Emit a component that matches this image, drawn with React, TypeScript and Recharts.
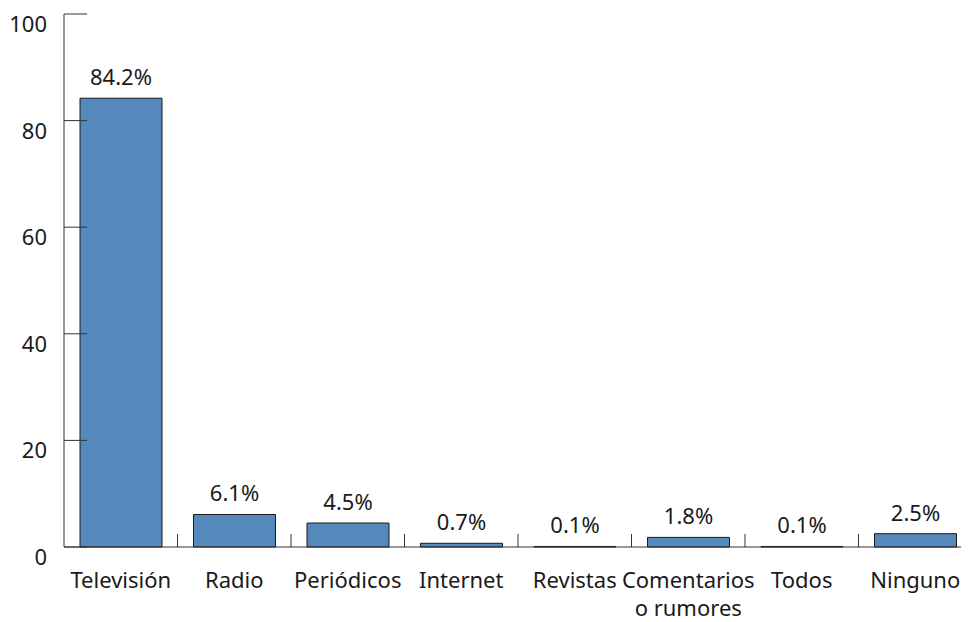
import { Bar, BarChart, LabelList, XAxis, YAxis } from "recharts";

const categories = [
  "Televisión",
  "Radio",
  "Periódicos",
  "Internet",
  "Revistas",
  "Comentarios\no rumores",
  "Todos",
  "Ninguno",
];
const percentages = [84.2, 6.1, 4.5, 0.7, 0.1, 1.8, 0.1, 2.5];
const yTicks = [0, 20, 40, 60, 80, 100];

const data = categories.map((name, i) => ({ name, value: percentages[i] }));

const CHART_W = 964;
const CHART_H = 614;
const MARGIN = { top: 6, right: 0, left: 16, bottom: 5 };
const Y_AXIS_W = 40;
const BAND = (CHART_W - MARGIN.left - MARGIN.right - Y_AXIS_W) / categories.length;
const FONT = "'Noto Sans', sans-serif";
const TEXT = "#1a1a1a";
const AXIS = "#333";

function XTick({ x, y, payload }: any) {
  const lines = String(payload.value).split("\n");
  return (
    <g>
      <line x1={x + BAND / 2} x2={x + BAND / 2} y1={y} y2={y - 13} stroke={AXIS} strokeWidth={1} />
      {lines.map((line, i) => (
        <text
          key={i}
          x={x}
          y={y + 41 + i * 28}
          textAnchor="middle"
          fontFamily={FONT}
          fontSize={22}
          fill={TEXT}
        >
          {line}
        </text>
      ))}
    </g>
  );
}

function YTick({ x, y, payload }: any) {
  return (
    <g>
      <line x1={x} x2={x + 23} y1={y} y2={y} stroke={AXIS} strokeWidth={1} />
      <text x={x - 17} y={y + 18} textAnchor="end" fontFamily={FONT} fontSize={22} fill={TEXT}>
        {payload.value}
      </text>
    </g>
  );
}

export default function App() {
  return (
    <div style={{ width: 961, height: CHART_H, overflow: "hidden" }}>
      <BarChart
        width={CHART_W}
        height={CHART_H}
        data={data}
        margin={MARGIN}
        barCategoryGap={16}
        style={{ fontFamily: FONT }}
      >
        <YAxis
          type="number"
          domain={[0, 100]}
          ticks={yTicks}
          width={Y_AXIS_W}
          tickSize={0}
          tickMargin={0}
          tickLine={false}
          axisLine={{ stroke: AXIS, strokeWidth: 1 }}
          tick={<YTick />}
          interval={0}
        />
        <XAxis
          dataKey="name"
          height={70}
          tickSize={0}
          tickMargin={0}
          tickLine={false}
          axisLine={{ stroke: AXIS, strokeWidth: 1 }}
          tick={<XTick />}
          interval={0}
        />
        <Bar dataKey="value" fill="#5589bc" stroke="#1a1a1a" strokeWidth={1} isAnimationActive={false}>
          <LabelList
            dataKey="value"
            position="top"
            offset={13}
            formatter={(v: any) => `${v}%`}
            style={{ fontFamily: FONT, fontSize: 22, fill: TEXT }}
          />
        </Bar>
      </BarChart>
    </div>
  );
}
